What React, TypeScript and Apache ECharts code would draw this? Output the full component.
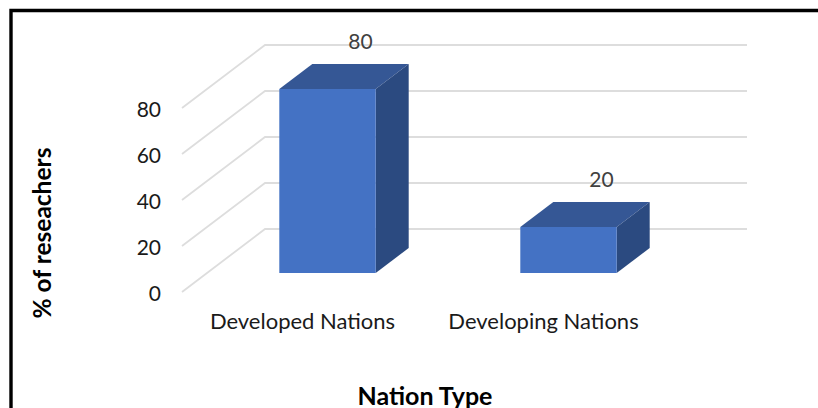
import React, { useEffect, useRef } from "react";
import * as echarts from "echarts";

const categories = ["Developed Nations", "Developing Nations"];
const researcherShare = [80, 20];
const valueTicks = [0, 20, 40, 60, 80];

const FONT = "Lato, Carlito, 'Open Sans', sans-serif";
const DX = 33;
const DY = 25;

export default function App() {
  const ref = useRef<HTMLDivElement>(null);
  useEffect(() => {
    document.body.style.margin = "0";
    const chart = echarts.init(ref.current!, undefined, { renderer: "svg" });
    chart.setOption({
      animation: false,
      backgroundColor: "#ffffff",
      grid: [
        { left: 182, top: 108, width: 482, height: 184 },
        { left: 207, top: 89, width: 482, height: 184 },
      ],
      xAxis: [
        {
          gridIndex: 0,
          type: "category",
          data: categories,
          axisLine: { show: false },
          axisTick: { show: false },
          axisLabel: { color: "#1a1a1a", fontSize: 22, fontFamily: FONT, margin: 17, interval: 0, hideOverlap: false },
          name: "Nation Type",
          nameLocation: "middle",
          nameGap: 90,
          nameTextStyle: { color: "#000", fontSize: 25, fontWeight: "bold", fontFamily: FONT, padding: [0, 0, 0, 4] },
        },
        { gridIndex: 1, type: "category", data: categories, show: false },
      ],
      yAxis: [
        {
          gridIndex: 0,
          type: "value",
          min: 0,
          max: 80,
          interval: 20,
          splitLine: { show: false },
          axisLine: { show: false },
          axisTick: { show: false },
          axisLabel: { color: "#1a1a1a", fontSize: 21, fontFamily: FONT, margin: 21 },
          name: "% of reseachers",
          nameLocation: "middle",
          nameGap: 128,
          nameTextStyle: { color: "#000", fontSize: 24.5, fontWeight: "bold", fontFamily: FONT, padding: [0, 66, 0, 0] },
        },
        { gridIndex: 1, type: "value", min: 0, max: 80, interval: 20, show: false },
      ],
      series: [
        {
          type: "custom",
          xAxisIndex: 0,
          yAxisIndex: 0,
          silent: true,
          z: 1,
          data: valueTicks.map((v) => [0, v]),
          encode: { y: 1 },
          renderItem: (params: any, api: any) => {
            const y = api.coord([0, api.value(1)])[1];
            const cs = params.coordSys;
            const wallX = cs.x + 83;
            const wallY = y - 63;
            return {
              type: "polyline",
              shape: {
                points: [
                  [cs.x, y],
                  [wallX, wallY],
                  [cs.x + cs.width + 83, wallY],
                ],
              },
              style: { fill: "none", stroke: "#dddddd", lineWidth: 1.8 },
            };
          },
        },
        {
          type: "custom",
          xAxisIndex: 1,
          yAxisIndex: 1,
          silent: true,
          z: 2,
          data: researcherShare.map((v, i) => [i, v]),
          encode: { x: 0, y: 1 },
          renderItem: (_params: any, api: any) => {
            const value = api.value(1);
            const [cx, top] = api.coord([api.value(0), value]);
            const bottom = api.coord([api.value(0), 0])[1];
            const w = api.size([1, 0])[0] * 0.4;
            const l = cx - w / 2;
            const r = cx + w / 2;
            return {
              type: "group",
              children: [
                {
                  type: "polygon",
                  shape: { points: [[l, top], [r, top], [r + DX, top - DY], [l + DX, top - DY]] },
                  style: { fill: "#355795" },
                },
                {
                  type: "polygon",
                  shape: { points: [[r, top], [r + DX, top - DY], [r + DX, bottom - DY], [r, bottom]] },
                  style: { fill: "#2b4a80" },
                },
                {
                  type: "rect",
                  shape: { x: l, y: top, width: w, height: bottom - top },
                  style: { fill: "#4472c4" },
                },
                {
                  type: "text",
                  style: {
                    text: String(value),
                    x: cx + DX,
                    y: top - 49,
                    align: "center",
                    verticalAlign: "middle",
                    fill: "#404040",
                    fontSize: 21,
                    fontFamily: FONT,
                  },
                },
              ],
            };
          },
        },
      ],
      graphic: [
        {
          type: "polyline",
          silent: true,
          shape: { points: [[11, 408], [11, 10.5], [818, 10.5]] },
          style: { fill: "none", stroke: "#000", lineWidth: 3.4 },
        },
      ],
    });
    return () => chart.dispose();
  }, []);
  return <div ref={ref} style={{ position: "fixed", left: 0, top: 0, width: 818, height: 408 }} />;
}
